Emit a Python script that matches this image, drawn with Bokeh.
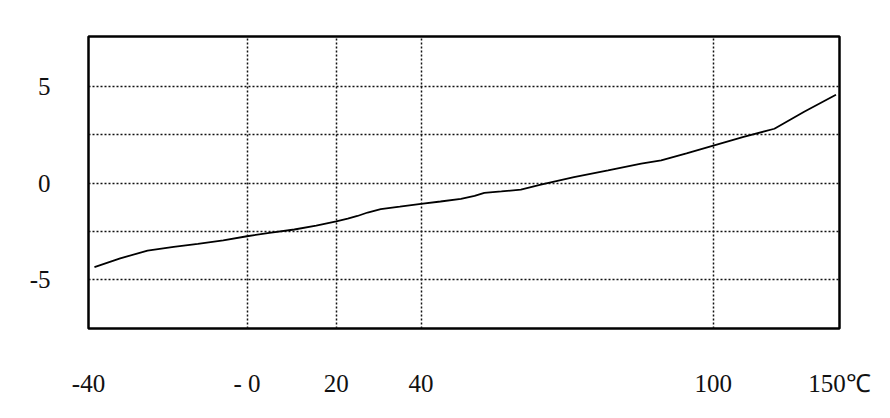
import numpy as np
from bokeh.plotting import figure
from bokeh.models import FixedTicker, Range1d
from bokeh.embed import file_html
from bokeh.resources import INLINE

# Hand-drawn, non-linear temperature axis: tick temperatures and their positions on the drawn scale
tick_temps = [-40, 0, 20, 40, 100, 150]
tick_labels = ["-40", "- 0", "20", "40", "100", "150\u2103"]
tick_scale = [0.0, 158.5, 247.8, 332.5, 624.8, 751.0]
grid_temps = [0, 20, 40, 100]

y_ticks = [-5, 0, 5]
y_labels = ["-5", "0", "5"]
y_grid = [-5, -2.5, 0, 2.5, 5]

# Curve
temps = [-38.5, -32.0, -25.1, -18.5, -12.4, -6.0, 0, 5.0, 10.6, 15.5, 20, 22.7, 25.0, 27.4,
         30.5, 35.0, 40, 44.0, 48.2, 51.0, 53.0, 56.5, 60.5, 64.6, 68.0, 71.4, 78.4,
         85.2, 89.3, 94.5, 100, 112.0, 124.2, 136.0, 148.6]
values = [-4.35, -3.90, -3.49, -3.30, -3.14, -2.96, -2.75, -2.57, -2.40, -2.20, -1.98,
          -1.84, -1.70, -1.52, -1.35, -1.22, -1.07, -0.95, -0.81, -0.66, -0.50, -0.43,
          -0.33, -0.08, 0.12, 0.31, 0.66, 1.01, 1.18, 1.55, 1.95, 2.40, 2.82, 3.70, 4.58]


def to_scale(t):
    return np.interp(t, tick_temps, tick_scale)


p = figure(width=882, height=408, output_backend="svg", toolbar_location=None,
           x_range=Range1d(to_scale(-40), to_scale(150)),
           y_range=Range1d(-7.53, 7.6),
           frame_width=751, frame_height=292,
           min_border_left=88, min_border_right=43, min_border_top=36, min_border_bottom=80)

p.background_fill_color = "white"
p.border_fill_color = "white"
p.outline_line_color = "black"
p.outline_line_width = 2.5

font = "Liberation Serif"

xt = [float(v) for v in to_scale(tick_temps)]
p.xaxis.ticker = FixedTicker(ticks=xt)
p.xaxis.major_label_overrides = {v: l for v, l in zip(xt, tick_labels)}
p.xaxis.major_label_standoff = 35
p.yaxis.ticker = FixedTicker(ticks=y_ticks)
p.yaxis.major_label_overrides = {v: l for v, l in zip(y_ticks, y_labels)}
p.yaxis.major_label_standoff = 32

for ax in (p.xaxis, p.yaxis):
    ax.axis_line_color = None
    ax.major_tick_line_color = None
    ax.minor_tick_line_color = None
    ax.major_label_text_font = font
    ax.major_label_text_font_size = "25px"
    ax.major_label_text_color = "#111111"

p.xgrid.ticker = FixedTicker(ticks=[float(v) for v in to_scale(grid_temps)])
p.ygrid.ticker = FixedTicker(ticks=y_grid)
for g in (p.xgrid, p.ygrid):
    g.grid_line_color = "#111111"
    g.grid_line_dash = "2 2"
    g.grid_line_width = 1.5
    g.grid_line_alpha = 1.0

p.line(to_scale(temps), values, line_color="black", line_width=1.8)

open("out.html", "w").write(file_html(p, INLINE))
